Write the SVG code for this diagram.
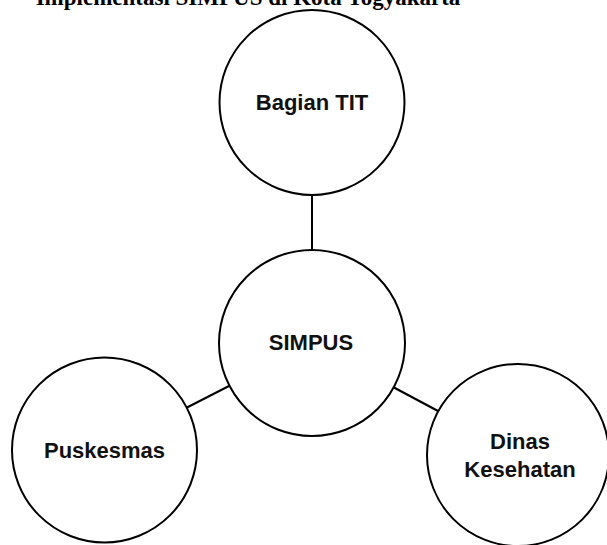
<svg xmlns="http://www.w3.org/2000/svg" width="607" height="545" viewBox="0 0 607 545">
<style>
.node{fill:#fff;stroke:#000;stroke-width:2}
.lbl{font-family:"Liberation Sans",Arial,sans-serif;font-weight:bold;font-size:22px;fill:#111;text-anchor:middle}
.title{font-family:"Liberation Serif","Times New Roman",serif;font-weight:bold;font-size:23px;fill:#000;text-anchor:middle}
.conn{stroke:#000;stroke-width:2;fill:none}
</style>
<rect width="607" height="545" fill="#fff"/>
<text class="title" x="248" y="4.5">Implementasi SIMPUS di Kota Yogyakarta</text>
<g id="connectors">
<line class="conn" x1="312" y1="195" x2="312" y2="250"/>
<line class="conn" x1="229" y1="386" x2="186" y2="408"/>
<line class="conn" x1="393" y1="387" x2="438" y2="411"/>
</g>
<g id="bagian-tit">
<circle class="node" cx="312" cy="102.5" r="92.5"/>
<text class="lbl" x="312" y="110">Bagian TIT</text>
</g>
<g id="simpus">
<circle class="node" cx="312" cy="343" r="93"/>
<text class="lbl" x="311" y="350">SIMPUS</text>
</g>
<g id="puskesmas">
<circle class="node" cx="104.5" cy="450" r="92.5"/>
<text class="lbl" x="104.5" y="458">Puskesmas</text>
</g>
<g id="dinas-kesehatan">
<circle class="node" cx="518" cy="455" r="91"/>
<text class="lbl" x="520" y="449">Dinas</text>
<text class="lbl" x="520" y="477">Kesehatan</text>
</g>
</svg>
